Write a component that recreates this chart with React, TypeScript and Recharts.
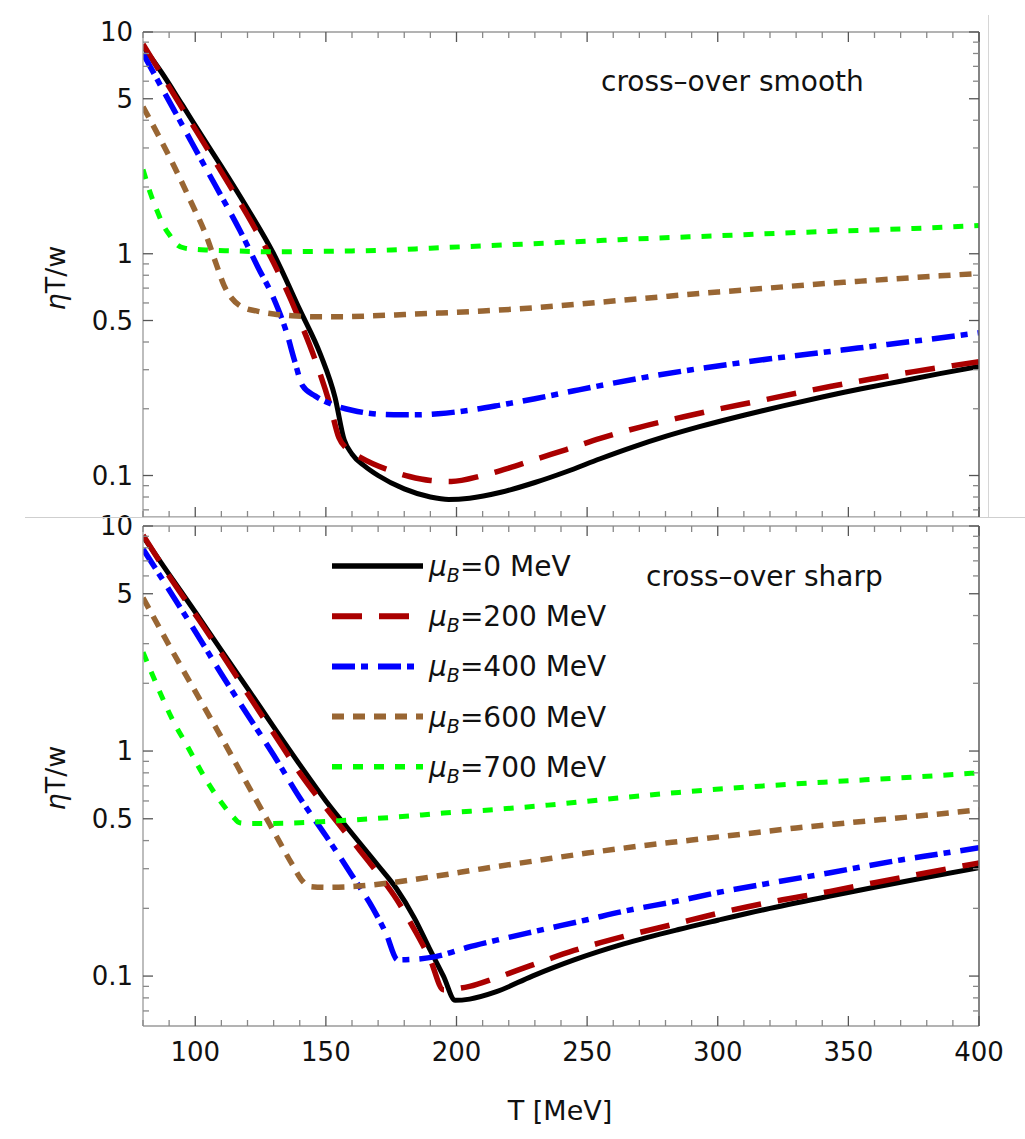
import React from 'react';
import { LineChart, Line, XAxis, YAxis, Legend } from 'recharts';

type Pt = [number, number];

// axis ticks
const xTicks = [80, 90, 100, 110, 120, 130, 140, 150, 160, 170, 180, 190, 200, 210, 220, 230, 240, 250, 260, 270, 280, 290, 300, 310, 320, 330, 340, 350, 360, 370, 380, 390, 400];
const xLabels = [100, 150, 200, 250, 300, 350, 400];
const yTicks = [0.07, 0.08, 0.09, 0.1, 0.2, 0.3, 0.4, 0.5, 0.6, 0.7, 0.8, 0.9, 1, 2, 3, 4, 5, 6, 7, 8, 9, 10];
const yLabels = [0.1, 0.5, 1, 5, 10];

const muValues = ['0', '200', '400', '600', '700'];

// cross-over smooth (upper panel): [T in MeV, eta T / w]
const smoothMu0: Pt[] = [[80, 8.6], [87, 6.6], [95, 4.7], [103, 3.33], [110, 2.48], [120, 1.6], [130, 1.0], [140, 0.56], [148, 0.35], [153.5, 0.225], [157, 0.145], [160, 0.125], [165, 0.11], [170, 0.1], [180, 0.087], [190, 0.08], [197, 0.078], [205, 0.079], [217, 0.084], [230, 0.093], [242, 0.104], [255, 0.119], [268, 0.135], [280, 0.15], [293, 0.166], [310, 0.187], [325, 0.206], [340, 0.226], [355, 0.246], [370, 0.266], [385, 0.288], [400, 0.31]];
const smoothMu200: Pt[] = [[80, 8.8], [87, 6.46], [94, 4.74], [102, 3.34], [110, 2.34], [120, 1.49], [130, 0.91], [140, 0.5], [146, 0.33], [151.5, 0.21], [155, 0.148], [158, 0.132], [163, 0.121], [168, 0.113], [175, 0.105], [182, 0.099], [190, 0.095], [198, 0.094], [210, 0.1], [220, 0.108], [230, 0.118], [242, 0.131], [255, 0.147], [270, 0.165], [287, 0.184], [300, 0.199], [315, 0.216], [330, 0.235], [343, 0.252], [360, 0.274], [375, 0.294], [390, 0.313], [400, 0.326]];
const smoothMu400: Pt[] = [[80, 8.0], [86, 5.94], [92, 4.42], [98, 3.28], [105, 2.32], [111, 1.73], [117, 1.28], [124, 0.87], [130, 0.63], [135, 0.44], [138, 0.33], [141, 0.255], [146, 0.228], [153, 0.208], [160, 0.197], [168, 0.19], [176, 0.188], [185, 0.188], [193, 0.19], [205, 0.197], [217, 0.208], [230, 0.222], [245, 0.241], [260, 0.261], [275, 0.281], [290, 0.3], [305, 0.318], [320, 0.336], [335, 0.353], [350, 0.371], [365, 0.39], [380, 0.41], [400, 0.44]];
const smoothMu600: Pt[] = [[80, 4.6], [86, 3.4], [92, 2.47], [98, 1.75], [104.5, 1.18], [108, 0.9], [111, 0.72], [114, 0.63], [118, 0.575], [124, 0.55], [130, 0.535], [137, 0.525], [146, 0.52], [156, 0.52], [168, 0.525], [180, 0.532], [193, 0.54], [210, 0.552], [229, 0.57], [245, 0.59], [264, 0.618], [282, 0.645], [300, 0.672], [318, 0.698], [335, 0.725], [353, 0.75], [370, 0.774], [385, 0.795], [400, 0.815]];
const smoothMu700: Pt[] = [[80, 2.4], [83, 1.85], [85.5, 1.55], [88, 1.33], [90.5, 1.2], [93, 1.1], [96, 1.06], [104, 1.04], [115, 1.03], [130, 1.02], [145, 1.025], [160, 1.03], [175, 1.04], [190, 1.06], [210, 1.085], [229, 1.11], [250, 1.14], [275, 1.175], [300, 1.205], [325, 1.24], [350, 1.27], [375, 1.3], [400, 1.34]];

// cross-over sharp (lower panel)
const sharpMu0: Pt[] = [[80, 9.0], [90, 6.1], [100, 4.15], [110, 2.8], [120, 1.9], [130, 1.28], [140, 0.87], [150, 0.6], [160, 0.43], [170, 0.31], [177, 0.245], [184, 0.18], [190, 0.13], [195, 0.1], [199.5, 0.078], [205, 0.079], [215, 0.085], [229, 0.1], [245, 0.118], [264, 0.139], [285, 0.161], [300, 0.177], [320, 0.2], [343, 0.227], [360, 0.248], [380, 0.275], [400, 0.303]];
const sharpMu200: Pt[] = [[80, 9.1], [90, 6.0], [100, 4.05], [110, 2.72], [120, 1.8], [130, 1.2], [140, 0.8], [150, 0.56], [160, 0.4], [170, 0.285], [177, 0.22], [184, 0.16], [190, 0.118], [195, 0.087], [205, 0.09], [215, 0.098], [228, 0.111], [245, 0.13], [264, 0.15], [285, 0.172], [300, 0.19], [320, 0.213], [343, 0.238], [360, 0.26], [380, 0.288], [400, 0.318]];
const sharpMu400: Pt[] = [[80, 7.9], [90, 5.2], [100, 3.4], [110, 2.2], [120, 1.45], [130, 0.96], [140, 0.62], [150, 0.42], [160, 0.28], [168, 0.2], [173, 0.155], [177.5, 0.118], [185, 0.119], [192, 0.122], [204, 0.134], [215, 0.144], [229, 0.157], [250, 0.178], [264, 0.194], [285, 0.216], [300, 0.235], [320, 0.259], [343, 0.288], [370, 0.328], [385, 0.349], [400, 0.372]];
const sharpMu600: Pt[] = [[80, 4.8], [90, 2.95], [100, 1.84], [110, 1.15], [120, 0.71], [130, 0.44], [137, 0.315], [141, 0.265], [144, 0.25], [150, 0.248], [158, 0.249], [166, 0.253], [175, 0.26], [193, 0.279], [210, 0.3], [230, 0.325], [250, 0.352], [270, 0.378], [290, 0.402], [310, 0.428], [330, 0.455], [350, 0.48], [375, 0.512], [400, 0.548]];
const sharpMu700: Pt[] = [[80, 2.75], [85, 2.0], [91, 1.4], [97, 1.05], [104, 0.75], [110, 0.59], [114.5, 0.51], [117, 0.48], [122, 0.476], [130, 0.477], [140, 0.48], [155, 0.49], [178, 0.51], [195, 0.53], [215, 0.55], [235, 0.575], [260, 0.615], [285, 0.655], [310, 0.69], [343, 0.73], [370, 0.76], [400, 0.8]];

const smoothSeries = [smoothMu0, smoothMu200, smoothMu400, smoothMu600, smoothMu700];
const sharpSeries = [sharpMu0, sharpMu200, sharpMu400, sharpMu600, sharpMu700];

const lineStyles = [
  { color: '#000000', width: 5, dash: undefined as string | undefined },
  { color: '#aa0000', width: 5.5, dash: '30 17' },
  { color: '#0000ff', width: 5.5, dash: '23 6 7 10' },
  { color: '#996633', width: 5.5, dash: '12 9' },
  { color: '#00ff00', width: 5, dash: '10 11' },
];

const FONT = 'DejaVu Sans';
const frameColor = '#9a9a9a';
const tickDark = '#555';
const tickLight = '#888';

const toPoints = (arr: Pt[]) => arr.map(([T, v]) => ({ T, v }));
const inList = (v: number, list: number[]) => list.some((l) => Math.abs(l - v) < 1e-9);

const LeftTick = (p: any) => {
  const { x, y, payload } = p;
  const major = inList(payload.value, yLabels);
  return (
    <g>
      <line x1={x} x2={x + (major ? 10 : 6)} y1={y} y2={y} stroke={major ? tickDark : tickLight} strokeWidth={1.3} />
      {major && (
        <text x={x - 10} y={y} dy="0.36em" textAnchor="end" fontSize={26} fontFamily={FONT} fill="#111">
          {payload.value}
        </text>
      )}
    </g>
  );
};

const RightTick = (p: any) => {
  const { x, y, payload } = p;
  const major = inList(payload.value, yLabels);
  return <line x1={x} x2={x - (major ? 10 : 6)} y1={y} y2={y} stroke={major ? tickDark : tickLight} strokeWidth={1.3} />;
};

const makeBottomTick = (withLabels: boolean) => (p: any) => {
  const { x, y, payload } = p;
  const major = inList(payload.value, xLabels);
  return (
    <g>
      <line x1={x} x2={x} y1={y} y2={y - (major ? 10 : 6)} stroke={major ? tickDark : tickLight} strokeWidth={1.3} />
      {withLabels && major && (
        <text x={x} y={y + 26} dy="0.36em" textAnchor="middle" fontSize={26} fontFamily={FONT} fill="#111">
          {payload.value}
        </text>
      )}
    </g>
  );
};

const TopTick = (p: any) => {
  const { x, y, payload } = p;
  const major = inList(payload.value, xLabels);
  return <line x1={x} x2={x} y1={y} y2={y + (major ? 10 : 6)} stroke={major ? tickDark : tickLight} strokeWidth={1.3} />;
};

const renderLegend = () => (
  <svg width={330} height={250}>
    {muValues.map((mu, i) => {
      const s = lineStyles[i];
      const y = 26 + i * 50.2;
      return (
        <g key={mu}>
          <line x1={7} x2={98} y1={y} y2={y} stroke={s.color} strokeWidth={s.width + 0.5} strokeDasharray={s.dash} />
          <text x={104} y={y} dy="0.36em" fontSize={28} fontFamily={FONT} fill="#111">
            <tspan fontStyle="italic">μ</tspan>
            <tspan fontStyle="italic" fontSize={19} dy={6}>B</tspan>
            <tspan dy={-6}>={mu} MeV</tspan>
          </text>
        </g>
      );
    })}
  </svg>
);

interface PanelProps {
  series: Pt[][];
  yMin: number;
  height: number;
  margin: { top: number; right: number; bottom: number; left: number };
  bottomAxisHeight: number;
  xLabelsOn: boolean;
  legendTop?: number;
}

const Panel = ({ series, yMin, height, margin, bottomAxisHeight, xLabelsOn, legendTop }: PanelProps) => (
  <LineChart width={1025} height={height} margin={margin} style={{ fontFamily: FONT }}>
    <XAxis
      xAxisId="b"
      dataKey="T"
      type="number"
      domain={[80, 400]}
      allowDataOverflow
      ticks={xTicks}
      interval={0}
      height={bottomAxisHeight}
      tickSize={0}
      tickMargin={0}
      axisLine={{ stroke: frameColor, strokeWidth: 1.3 }}
      tick={makeBottomTick(xLabelsOn)}
    />
    <XAxis
      xAxisId="t"
      orientation="top"
      dataKey="T"
      type="number"
      domain={[80, 400]}
      allowDataOverflow
      ticks={xTicks}
      interval={0}
      height={1}
      tickSize={0}
      tickMargin={0}
      axisLine={{ stroke: frameColor, strokeWidth: 1.3 }}
      tick={TopTick}
    />
    <YAxis
      yAxisId="l"
      type="number"
      scale="log"
      domain={[yMin, 10]}
      allowDataOverflow
      ticks={yTicks}
      interval={0}
      width={143}
      tickSize={0}
      tickMargin={0}
      axisLine={{ stroke: frameColor, strokeWidth: 1.3 }}
      tick={LeftTick}
    />
    <YAxis
      yAxisId="r"
      orientation="right"
      type="number"
      scale="log"
      domain={[yMin, 10]}
      allowDataOverflow
      ticks={yTicks}
      interval={0}
      width={1}
      tickSize={0}
      tickMargin={0}
      axisLine={{ stroke: '#666', strokeWidth: 1.6 }}
      tick={RightTick}
    />
    {series.map((s, i) => (
      <Line
        key={muValues[i]}
        xAxisId="b"
        yAxisId="l"
        data={toPoints(s)}
        dataKey="v"
        name={muValues[i]}
        type="monotone"
        stroke={lineStyles[i].color}
        strokeWidth={lineStyles[i].width}
        strokeDasharray={lineStyles[i].dash}
        dot={false}
        activeDot={false}
        isAnimationActive={false}
      />
    ))}
    {/* keeps the top and right frame axes bound to data */}
    <Line
      xAxisId="t"
      yAxisId="r"
      data={toPoints(series[0])}
      dataKey="v"
      stroke="none"
      dot={false}
      activeDot={false}
      legendType="none"
      isAnimationActive={false}
    />
    {legendTop !== undefined && (
      <Legend
        layout="vertical"
        align="center"
        verticalAlign="middle"
        content={renderLegend}
        wrapperStyle={{ left: 325, top: legendTop, width: 330, height: 250 }}
      />
    )}
  </LineChart>
);

const textStyle: React.CSSProperties = {
  position: 'absolute',
  fontFamily: FONT,
  color: '#111',
  whiteSpace: 'nowrap',
  lineHeight: 1,
};

const YLabel = ({ top }: { top: number }) => (
  <div style={{ ...textStyle, left: 55, top, fontSize: 27, transform: 'translate(-50%, -50%) rotate(-90deg)' }}>
    <i>η</i>T/w
  </div>
);

const App = () => (
  <div style={{ position: 'absolute', left: 0, top: 0, width: 1025, height: 1139, background: '#fff', overflow: 'hidden' }}>
    <div style={{ position: 'absolute', left: 0, top: 0 }}>
      <Panel
        series={smoothSeries}
        yMin={0.065}
        height={520}
        margin={{ top: 31, right: 45, bottom: 2, left: 0 }}
        bottomAxisHeight={1}
        xLabelsOn={false}
      />
    </div>
    <div style={{ position: 'absolute', left: 0, top: 500 }}>
      <Panel
        series={sharpSeries}
        yMin={0.06}
        height={639}
        margin={{ top: 25, right: 45, bottom: 20, left: 0 }}
        bottomAxisHeight={93}
        xLabelsOn
        legendTop={40}
      />
    </div>

    {/* panel separators from the source figure */}
    <div style={{ position: 'absolute', left: 25, top: 517, width: 1000, height: 1, background: '#cfcfcf' }} />
    <div style={{ position: 'absolute', left: 988, top: 15, width: 1, height: 502, background: '#d6d6d6' }} />

    <YLabel top={278} />
    <YLabel top={778} />
    <div style={{ ...textStyle, left: 601, top: 68, fontSize: 28 }}>cross–over smooth</div>
    <div style={{ ...textStyle, left: 646, top: 563, fontSize: 28 }}>cross–over sharp</div>
    <div style={{ ...textStyle, left: 560, top: 1110, fontSize: 27, transform: 'translate(-50%, -50%)' }}>T [MeV]</div>
  </div>
);

export default App;
